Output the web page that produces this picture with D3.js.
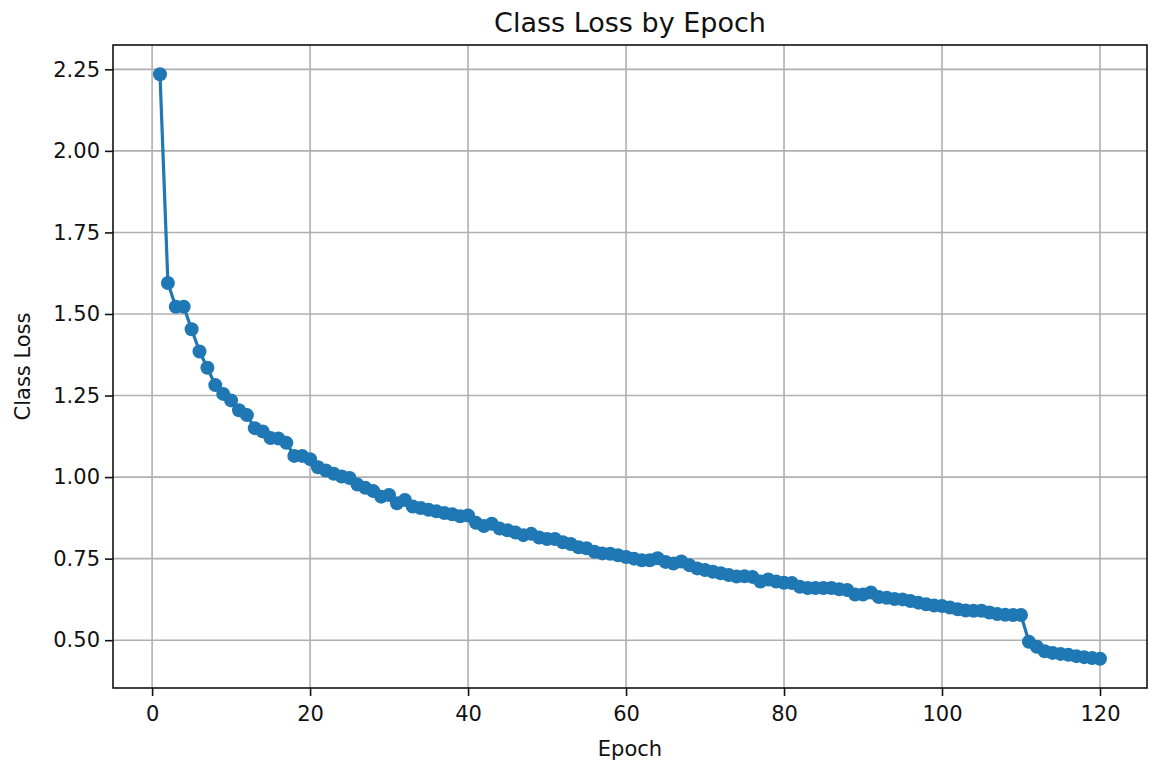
<!DOCTYPE html>
<html>
<head>
<meta charset="utf-8">
<script src="https://cdn.jsdelivr.net/npm/d3@7"></script>
<style>
  html, body { margin: 0; padding: 0; background: #fff; }
  svg { display: block; }
  text { font-family: "DejaVu Sans", sans-serif; fill: #111; }
</style>
</head>
<body>
<svg id="chart" width="1151" height="767"></svg>
<script>
// Epoch numbers 1..120
const epochs = Array.from({length: 120}, (_, i) => i + 1);

// Classification loss per epoch
const classLoss = [
  2.235, 1.595, 1.522, 1.522, 1.453, 1.385, 1.335, 1.282, 1.255, 1.235,
  1.205, 1.190, 1.150, 1.140, 1.120, 1.118, 1.105, 1.065, 1.065, 1.055,
  1.030, 1.020, 1.010, 1.002, 0.997, 0.977, 0.967, 0.957, 0.940, 0.945,
  0.920, 0.930, 0.910, 0.905, 0.900, 0.895, 0.890, 0.886, 0.880, 0.882,
  0.860, 0.850, 0.857, 0.842, 0.837, 0.830, 0.822, 0.826, 0.815, 0.810,
  0.810, 0.800, 0.795, 0.785, 0.782, 0.771, 0.766, 0.765, 0.760, 0.755,
  0.750, 0.745, 0.745, 0.751, 0.740, 0.735, 0.741, 0.730, 0.720, 0.715,
  0.710, 0.705, 0.700, 0.695, 0.696, 0.694, 0.680, 0.686, 0.680, 0.676,
  0.675, 0.664, 0.660, 0.660, 0.660, 0.660, 0.656, 0.654, 0.640, 0.640,
  0.646, 0.632, 0.630, 0.626, 0.625, 0.620, 0.615, 0.610, 0.606, 0.605,
  0.600, 0.595, 0.591, 0.590, 0.590, 0.585, 0.580, 0.578, 0.577, 0.577,
  0.495, 0.480, 0.466, 0.461, 0.458, 0.455, 0.451, 0.448, 0.445, 0.443
];

const xTicks = [0, 20, 40, 60, 80, 100, 120];
const yTicks = [0.50, 0.75, 1.00, 1.25, 1.50, 1.75, 2.00, 2.25];

const titleText = "Class Loss by Epoch";
const xLabelText = "Epoch";
const yLabelText = "Class Loss";

const W = 1151, H = 767;
const margin = {left: 113, top: 45, right: 4, bottom: 79};
const plotW = W - margin.left - margin.right;
const plotH = H - margin.top - margin.bottom;

const svg = d3.select("#chart");
const g = svg.append("g").attr("transform", `translate(${margin.left},${margin.top})`);

// 5% padding on each side of the data range
const xMin = d3.min(epochs), xMax = d3.max(epochs);
const yMin = d3.min(classLoss), yMax = d3.max(classLoss);
const xPad = (xMax - xMin) * 0.05, yPad = (yMax - yMin) * 0.05;

const x = d3.scaleLinear().domain([xMin - xPad, xMax + xPad]).range([0, plotW]);
const y = d3.scaleLinear().domain([yMin - yPad, yMax + yPad]).range([plotH, 0]);

// grid
g.append("g").selectAll("line").data(xTicks).join("line")
  .attr("x1", d => x(d)).attr("x2", d => x(d))
  .attr("y1", 0).attr("y2", plotH)
  .attr("stroke", "#b0b0b0").attr("stroke-width", 1.6);
g.append("g").selectAll("line").data(yTicks).join("line")
  .attr("x1", 0).attr("x2", plotW)
  .attr("y1", d => y(d)).attr("y2", d => y(d))
  .attr("stroke", "#b0b0b0").attr("stroke-width", 1.6);

// axes
const xAxis = d3.axisBottom(x).tickValues(xTicks).tickSize(8).tickPadding(10).tickFormat(d3.format("d"));
const yAxis = d3.axisLeft(y).tickValues(yTicks).tickSize(8).tickPadding(5).tickFormat(d3.format(".2f"));

const gx = g.append("g").attr("transform", `translate(0,${plotH})`).call(xAxis);
const gy = g.append("g").call(yAxis);
[gx, gy].forEach(a => {
  a.select(".domain").remove();
  a.selectAll(".tick line").attr("stroke", "#111").attr("stroke-width", 1.6);
  a.selectAll(".tick text").attr("font-size", 21).attr("font-family", "DejaVu Sans").attr("fill", "#111");
});

// data line and markers
const line = d3.line().x((d, i) => x(epochs[i])).y(d => y(d));
g.append("path").datum(classLoss)
  .attr("d", line).attr("fill", "none")
  .attr("stroke", "#1f77b4").attr("stroke-width", 3.2);
g.append("g").selectAll("circle").data(classLoss).join("circle")
  .attr("cx", (d, i) => x(epochs[i])).attr("cy", d => y(d))
  .attr("r", 7).attr("fill", "#1f77b4");

// frame
g.append("rect").attr("x", 0).attr("y", 0).attr("width", plotW).attr("height", plotH)
  .attr("fill", "none").attr("stroke", "#111").attr("stroke-width", 1.6);

// labels
svg.append("text").attr("x", margin.left + plotW / 2).attr("y", 32)
  .attr("text-anchor", "middle").attr("font-size", 27).text(titleText);
svg.append("text").attr("x", margin.left + plotW / 2).attr("y", 756)
  .attr("text-anchor", "middle").attr("font-size", 21).text(xLabelText);
svg.append("text").attr("transform", `translate(30,${margin.top + plotH / 2}) rotate(-90)`)
  .attr("text-anchor", "middle").attr("font-size", 21).text(yLabelText);
</script>
</body>
</html>
